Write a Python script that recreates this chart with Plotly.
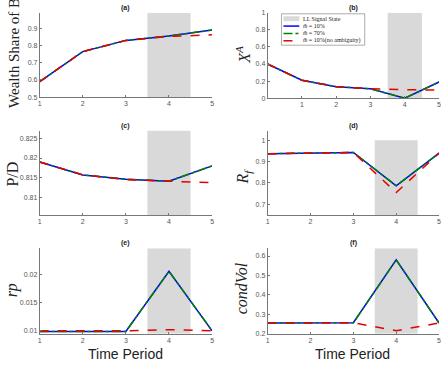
import plotly.graph_objects as go

W, H = 448, 369

# ---------------- data ----------------
t = [1, 2, 3, 4, 5]
tb = [0, 1, 2, 3, 4, 5]

wealth_m10 = [0.59, 0.765, 0.830, 0.855, 0.890]
wealth_m70 = [0.59, 0.765, 0.830, 0.855, 0.890]
wealth_noamb = [0.59, 0.765, 0.830, 0.853, 0.862]

xa_m10 = [0.40, 0.21, 0.135, 0.11, 0.0, 0.19]
xa_m70 = [0.40, 0.21, 0.135, 0.11, 0.0, 0.19]
xa_noamb = [0.40, 0.21, 0.135, 0.11, 0.10, 0.095]

pd_m10 = [0.8190, 0.8157, 0.8146, 0.8141, 0.8180]
pd_m70 = [0.8190, 0.8157, 0.8146, 0.8141, 0.8180]
pd_noamb = [0.8190, 0.8157, 0.8145, 0.8141, 0.8137]

rf_m10 = [0.937, 0.940, 0.943, 0.787, 0.940]
rf_m70 = [0.937, 0.940, 0.943, 0.787, 0.940]
rf_noamb = [0.937, 0.940, 0.943, 0.755, 0.940]

rp_m10 = [0.0099, 0.0099, 0.0099, 0.0206, 0.0100]
rp_m70 = [0.0099, 0.0099, 0.0099, 0.0206, 0.0100]
rp_noamb = [0.0100, 0.0100, 0.0100, 0.0102, 0.0100]

cv_m10 = [0.255, 0.255, 0.256, 0.580, 0.255]
cv_m70 = [0.255, 0.255, 0.256, 0.580, 0.255]
cv_noamb = [0.255, 0.255, 0.256, 0.215, 0.255]

shade_x = [3.5, 4.5]

series_names = ["<i>m̄</i> = 10%", "<i>m̄</i> = 70%", "<i>m̄</i> = 10%(no ambiguity)"]
shade_name = "LL Signal State"

panels = [
    dict(tag="(a)", x=t, ys=[wealth_m10, wealth_m70, wealth_noamb], xr=[1, 5], yr=[0.5, 0.99],
         yt=[0.5, 0.6, 0.7, 0.8, 0.9], shade=[0.5, 0.99], ylab="Wealth Share of B", it=False),
    dict(tag="(b)", x=tb, ys=[xa_m10, xa_m70, xa_noamb], xr=[0, 5], yr=[0, 1],
         yt=[0, 0.2, 0.4, 0.6, 0.8, 1], shade=[0, 1], ylab="X<sup>A</sup>", it=True),
    dict(tag="(c)", x=t, ys=[pd_m10, pd_m70, pd_noamb], xr=[1, 5], yr=[0.8055, 0.827],
         yt=[0.81, 0.815, 0.82, 0.825], shade=[0.8055, 0.827], ylab="P/D", it=False),
    dict(tag="(d)", x=t, ys=[rf_m10, rf_m70, rf_noamb], xr=[1, 5], yr=[0.65, 1.046],
         yt=[0.7, 0.8, 0.9, 1], shade=[0.65, 1.0], ylab="R<sub>f</sub>", it=True),
    dict(tag="(e)", x=t, ys=[rp_m10, rp_m70, rp_noamb], xr=[1, 5], yr=[0.0095, 0.0247],
         yt=[0.01, 0.015, 0.02], shade=[0.0095, 0.0247], ylab="rp", it=True),
    dict(tag="(f)", x=t, ys=[cv_m10, cv_m70, cv_noamb], xr=[1, 5], yr=[0.2, 0.64],
         yt=[0.2, 0.3, 0.4, 0.5, 0.6], shade=[0.2, 0.64], ylab="condVol", it=True),
]

# plot-area pixel boxes (left, right, top, bottom)
boxes = [
    (38, 212, 9, 95), (268, 441, 9, 96),
    (38, 212, 129, 215), (268, 441, 129, 215),
    (38, 212, 249, 336), (268, 441, 249, 336),
]
ylab_pos = [(12, 50), (243, 52), (11, 173), (244, 176), (11, 292), (242, 290)]
ylab_size = [15, 16, 16, 16, 16, 16]

colors = ["rgb(0,0,255)", "rgb(0,128,0)", "rgb(230,0,0)"]
dashes = ["solid", "dashdot", "dash"]
shade_color = "rgb(217,217,217)"

fig = go.Figure()
annotations = []
shapes = []
layout = dict(width=W, height=H, margin=dict(l=0, r=0, t=0, b=0),
              paper_bgcolor="white", plot_bgcolor="white", showlegend=False,
              font=dict(family="Liberation Sans", size=7, color="#444"))

axcol = "#777"
for i, (p, b) in enumerate(zip(panels, boxes)):
    n = i + 1
    xa = "x" if n == 1 else f"x{n}"
    ya = "y" if n == 1 else f"y{n}"
    l, r, tp, bt = b
    xkey = "xaxis" if n == 1 else f"xaxis{n}"
    ykey = "yaxis" if n == 1 else f"yaxis{n}"
    layout[xkey] = dict(domain=[l / W, r / W], range=p["xr"], anchor=ya,
                        tickvals=[1, 2, 3, 4, 5], showgrid=False, zeroline=False,
                        showline=True, linecolor=axcol, linewidth=0.8,
                        ticks="inside", ticklen=2, tickcolor=axcol,
                        tickfont=dict(size=7, color="#555"))
    layout[ykey] = dict(domain=[1 - bt / H, 1 - tp / H], range=p["yr"], anchor=xa,
                        tickvals=p["yt"], showgrid=False, zeroline=False,
                        showline=True, linecolor=axcol, linewidth=0.8,
                        ticks="inside", ticklen=2, tickcolor=axcol,
                        tickfont=dict(size=7, color="#555"))
    # shaded LL signal state
    s0, s1 = p["shade"]
    fig.add_trace(go.Scatter(x=[shade_x[0], shade_x[1], shade_x[1], shade_x[0], shade_x[0]],
                             y=[s0, s0, s1, s1, s0], fill="toself", mode="lines",
                             line=dict(width=0, color="rgba(0,0,0,0)"),
                             fillcolor=shade_color, name=shade_name,
                             xaxis=xa, yaxis=ya, hoverinfo="skip"))
    for k in range(3):
        fig.add_trace(go.Scatter(x=p["x"], y=p["ys"][k], mode="lines",
                                 line=dict(color=colors[k], dash=dashes[k], width=1.5),
                                 name=series_names[k], xaxis=xa, yaxis=ya))
    # panel tag
    annotations.append(dict(text="<b>" + p["tag"] + "</b>", x=(l + r) / 2 / W,
                            y=1 - (tp - 5) / H, xref="paper", yref="paper",
                            xanchor="center", yanchor="middle", showarrow=False,
                            font=dict(size=7, color="#222", family="Liberation Sans")))
    lx, ly = ylab_pos[i]
    txt = "<i>" + p["ylab"] + "</i>" if p["it"] else p["ylab"]
    annotations.append(dict(text=txt, x=lx / W, y=1 - ly / H, xref="paper",
                            yref="paper", xanchor="center", yanchor="middle",
                            showarrow=False, textangle=-90,
                            font=dict(size=ylab_size[i], color="#222",
                                      family="Liberation Serif")))

for cx in [125, 354]:
    annotations.append(dict(text="Time Period", x=cx / W, y=1 - 357 / H,
                            xref="paper", yref="paper", xanchor="center",
                            yanchor="middle", showarrow=False,
                            font=dict(size=14, color="#222", family="Liberation Sans")))

# compact legend box in panel (b)
lg_l, lg_r, lg_t, lg_b = 282, 366, 10, 42
shapes.append(dict(type="rect", xref="paper", yref="paper",
                   x0=lg_l / W, x1=lg_r / W, y0=1 - lg_b / H, y1=1 - lg_t / H,
                   line=dict(color="#888", width=0.7), fillcolor="white", layer="above"))
rows = [15, 22.5, 30, 37.5]
shapes.append(dict(type="rect", xref="paper", yref="paper",
                   x0=284 / W, x1=300 / W, y0=1 - (rows[0] + 2.5) / H, y1=1 - (rows[0] - 2.5) / H,
                   line=dict(width=0), fillcolor=shade_color, layer="above"))
annotations.append(dict(text=shade_name, x=302 / W, y=1 - rows[0] / H, xref="paper",
                        yref="paper", xanchor="left", yanchor="middle", showarrow=False,
                        font=dict(size=6, color="#222", family="Liberation Serif")))
for k in range(3):
    yy = 1 - rows[k + 1] / H
    shapes.append(dict(type="line", xref="paper", yref="paper", x0=284 / W, x1=300 / W,
                       y0=yy, y1=yy, layer="above",
                       line=dict(color=colors[k], width=1.5, dash=dashes[k])))
    annotations.append(dict(text=series_names[k], x=302 / W, y=yy, xref="paper",
                            yref="paper", xanchor="left", yanchor="middle", showarrow=False,
                            font=dict(size=6, color="#222", family="Liberation Serif")))

layout["annotations"] = annotations
layout["shapes"] = shapes
fig.update_layout(**layout)
fig.write_html("out.html")
